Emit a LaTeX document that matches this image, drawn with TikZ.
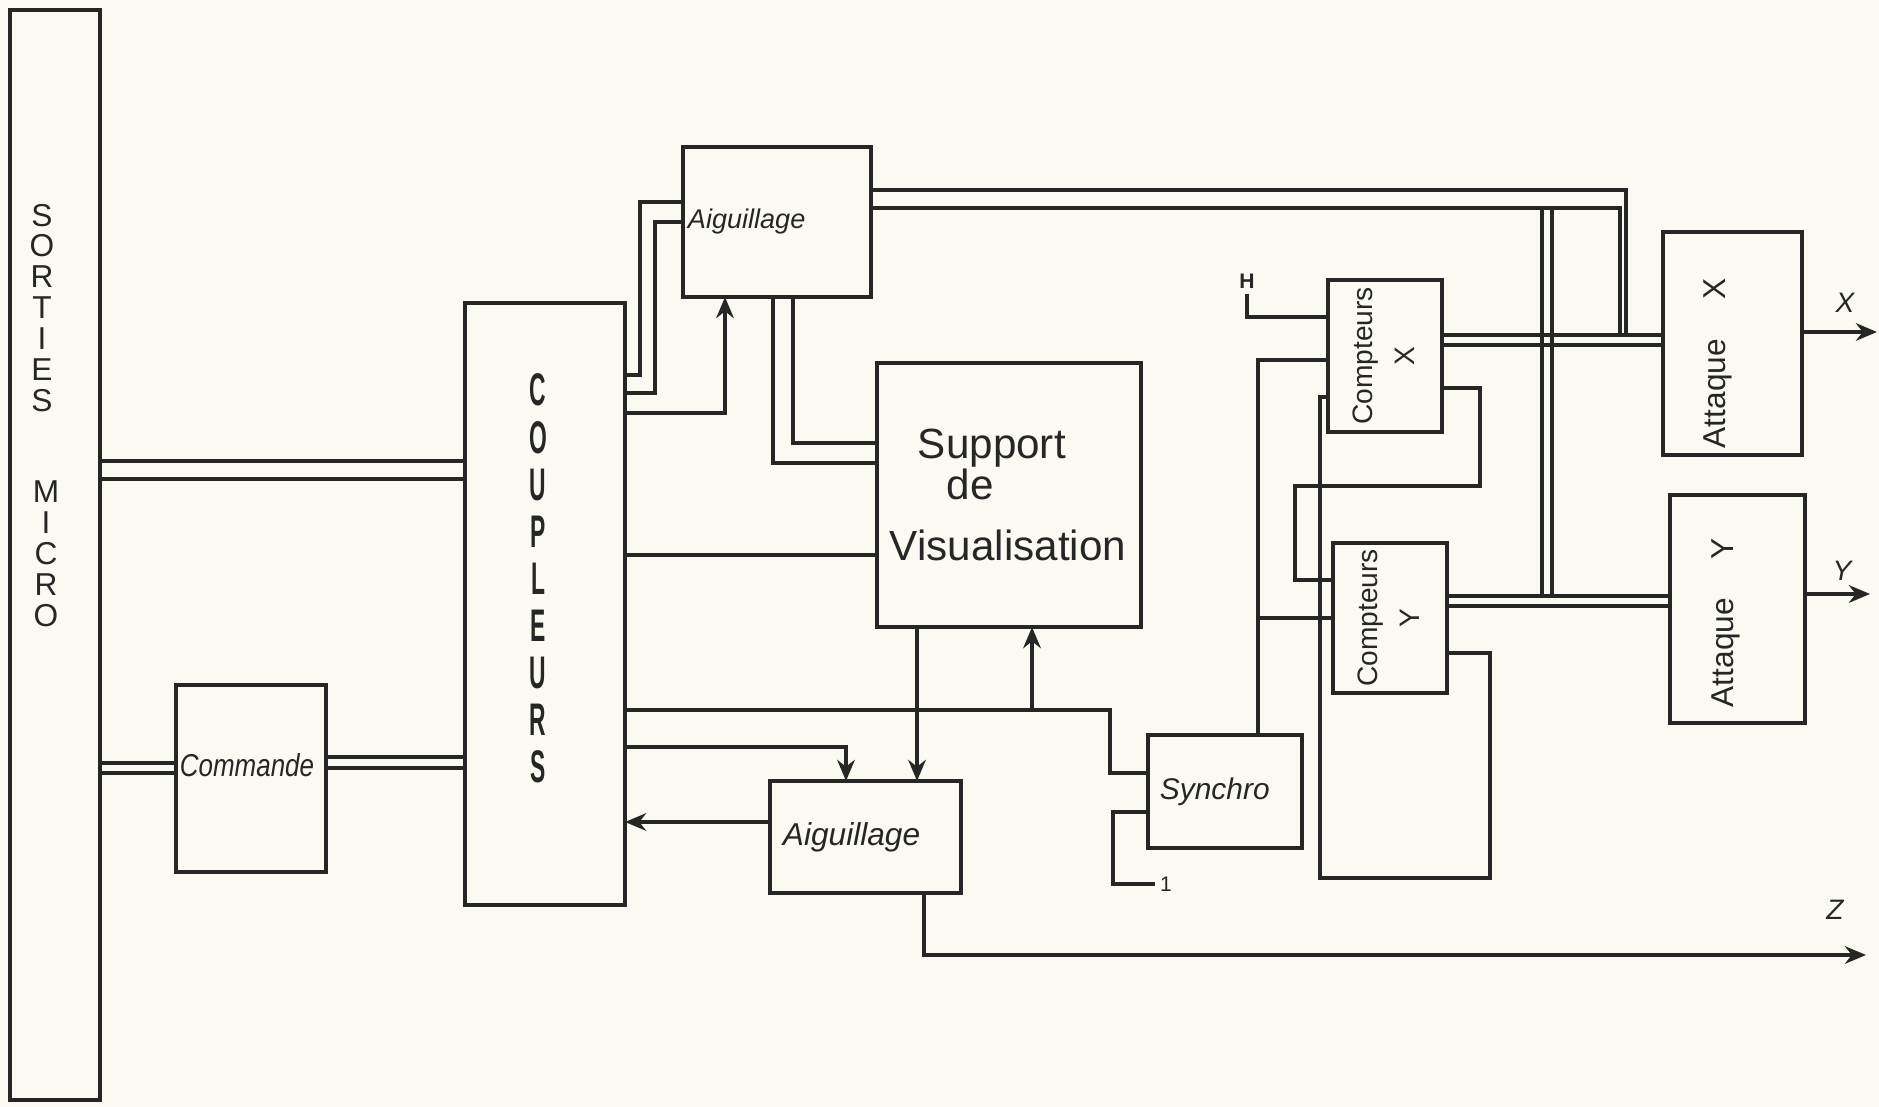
\documentclass[tikz,border=0pt]{standalone}
\usepackage{fontspec}
\usepackage{graphicx}
\usepackage{tikz}
\usetikzlibrary{arrows.meta}
\setmainfont{Liberation Sans}
\definecolor{paper}{RGB}{251,250,242}
\definecolor{ink}{RGB}{38,38,38}

\begin{document}
\begin{tikzpicture}[
    x=0.01cm, y=-0.01cm, color=ink, line width=1pt, >={Stealth[length=6pt,width=5pt]},
    blk/.style={draw, line width=1.1pt, inner sep=0pt, outer sep=0pt},
    lbl/.style={inner sep=1pt, font=\itshape\fontsize{8}{9}\selectfont}
]
    \useasboundingbox (0,0) rectangle (1879,1107);
    \fill[paper] (0,0) rectangle (1879,1107);

    \node[blk, minimum width=0.90cm, minimum height=10.90cm] (micro) at (55,555) {};
    \node[font=\fontsize{9}{8.8}\selectfont, align=center] (sorties) at (42,308) {S\\O\\R\\T\\I\\E\\S};
    \node[font=\fontsize{9}{8.8}\selectfont, align=center] (microlbl) at (46,554) {M\\I\\C\\R\\O};

    \node[blk, minimum width=1.60cm, minimum height=6.02cm] (coup) at (545,604) {};
    \node (couplbl) at (538,585) {\scalebox{0.5}[1]{\bfseries\fontsize{13}{13.4}\selectfont
        \begin{tabular}{@{}c@{}}C\\O\\U\\P\\L\\E\\U\\R\\S\end{tabular}}};

    \node[blk, minimum width=1.50cm, minimum height=1.87cm, text width=1.42cm, align=left,
        font=\fontsize{9}{10}\selectfont] (cmd) at (251,778.5)
        {\raisebox{0.13cm}[\height][\depth]{\scalebox{0.82}[1]{\itshape Commande}}};
    \node[blk, minimum width=1.88cm, minimum height=1.50cm, text width=1.78cm, align=left,
        font=\itshape\fontsize{7.7}{9}\selectfont] (aig1) at (777,222) {Aiguillage};
    \node[blk, minimum width=2.64cm, minimum height=2.64cm, text width=2.38cm, align=left,
        font=\fontsize{12}{14.4}\selectfont] (supp) at (1009,495)
        {\hspace*{0.28cm}Support\\[-0.1cm]\hspace*{0.57cm}de\\[0.11cm]Visualisation};
    \node[blk, minimum width=1.91cm, minimum height=1.12cm, text width=1.65cm, align=left,
        font=\itshape\fontsize{9}{10}\selectfont] (aig2) at (865.5,837) {Aiguillage};
    \node[blk, minimum width=1.54cm, minimum height=1.13cm, text width=1.30cm, align=left,
        font=\itshape\fontsize{8.5}{10}\selectfont] (sync) at (1225,791.5) {Synchro};
    \node[blk, minimum width=1.14cm, minimum height=1.52cm, font=\fontsize{8}{12}\selectfont] (cptX) at (1385,356)
        {\rotatebox{90}{\begin{tabular}{@{}c@{}}Compteurs\\X\end{tabular}}};
    \node[blk, minimum width=1.14cm, minimum height=1.50cm, font=\fontsize{8}{12}\selectfont] (cptY) at (1390,618)
        {\rotatebox{90}{\begin{tabular}{@{}c@{}}Compteurs\\Y\end{tabular}}};
    \node[blk, minimum width=1.39cm, minimum height=2.23cm, font=\fontsize{9}{11}\selectfont] (attX) at (1732.5,343.5)
        {\rotatebox{90}{\raisebox{0.15cm}[\height][\depth]{Attaque\hspace{0.40cm}X\hspace{0.39cm}}}};
    \node[blk, minimum width=1.35cm, minimum height=2.28cm, font=\fontsize{9}{11}\selectfont] (attY) at (1737.5,609)
        {\rotatebox{90}{\raisebox{0.12cm}[\height][\depth]{Attaque\hspace{0.39cm}Y\hspace{0.27cm}}}};

    \node[lbl] (lblX) at (1845,303) {X};
    \node[lbl] (lblY) at (1842,571) {Y};
    \node[lbl] (lblZ) at (1835,910) {Z};
    \node[lbl, font=\bfseries\fontsize{6}{7}\selectfont] (clk) at (1247,281) {H};
    \node[lbl, font=\fontsize{6}{7}\selectfont] (one) at (1166,884) {1};
    \coordinate (outX) at (1877,332);
    \coordinate (outY) at (1870,594);
    \coordinate (outZ) at (1866,955);

    \foreach \y in {461,479} \draw (micro.east |- 0,\y) -- (coup.west |- 0,\y);
    \foreach \y in {763,773} \draw (micro.east |- 0,\y) -- (cmd.west |- 0,\y);
    \foreach \y in {757,768} \draw (cmd.east |- 0,\y) -- (coup.west |- 0,\y);

    \draw (coup.east |- 0,375) -| (640,202) -- (aig1.west |- 0,202);
    \draw (coup.east |- 0,393) -| (655,222) -- (aig1.west |- 0,222);
    \draw[->] (coup.east |- 0,413) -| (aig1.south -| 725,0);
    \draw (aig1.south -| 773,0) |- (supp.west |- 0,463);
    \draw (aig1.south -| 793,0) |- (supp.west |- 0,443);
    \draw (coup.east |- 0,555) -- (supp.west |- 0,555);

    \draw (aig1.east |- 0,190) -| (1626,335);
    \draw (aig1.east |- 0,208) -| (1620,335);
    \foreach \x in {1542,1552} \draw (\x,208) -- (\x,596);
    \foreach \y in {335,345} \draw (cptX.east |- 0,\y) -- (attX.west |- 0,\y);
    \foreach \y in {596,606} \draw (cptY.east |- 0,\y) -- (attY.west |- 0,\y);
    \draw[->] (attX.east |- outX) -- (outX);
    \draw[->] (attY.east |- outY) -- (outY);

    \draw (clk.south) |- (cptX.west |- 0,317);
    \draw (sync.north -| 1258,0) |- (cptX.west |- 0,360);
    \draw (1258,618) -- (cptY.west |- 0,618);
    \draw (cptX.east |- 0,388) -- (1480,388) |- (1295,486) |- (cptY.west |- 0,580);
    \draw (cptX.west |- 0,397) -- (1320,397) -- (1320,878) -| (1490,653) -- (cptY.east |- 0,653);

    \draw (coup.east |- 0,710) -| (1110,773) -- (sync.west |- 0,773);
    \draw[->] (1032,710) -- (supp.south -| 1032,0);
    \draw[->] (supp.south -| 917,0) -- (aig2.north -| 917,0);
    \draw[->] (coup.east |- 0,747) -| (aig2.north -| 846,0);
    \draw[->] (aig2.west |- 0,822) -- (coup.east |- 0,822);
    \draw[->] (aig2.south -| 924,0) |- (outZ);
    \draw (sync.west |- 0,812) -| (one.west -| 1113,0) -- (one.west);
\end{tikzpicture}
\end{document}
